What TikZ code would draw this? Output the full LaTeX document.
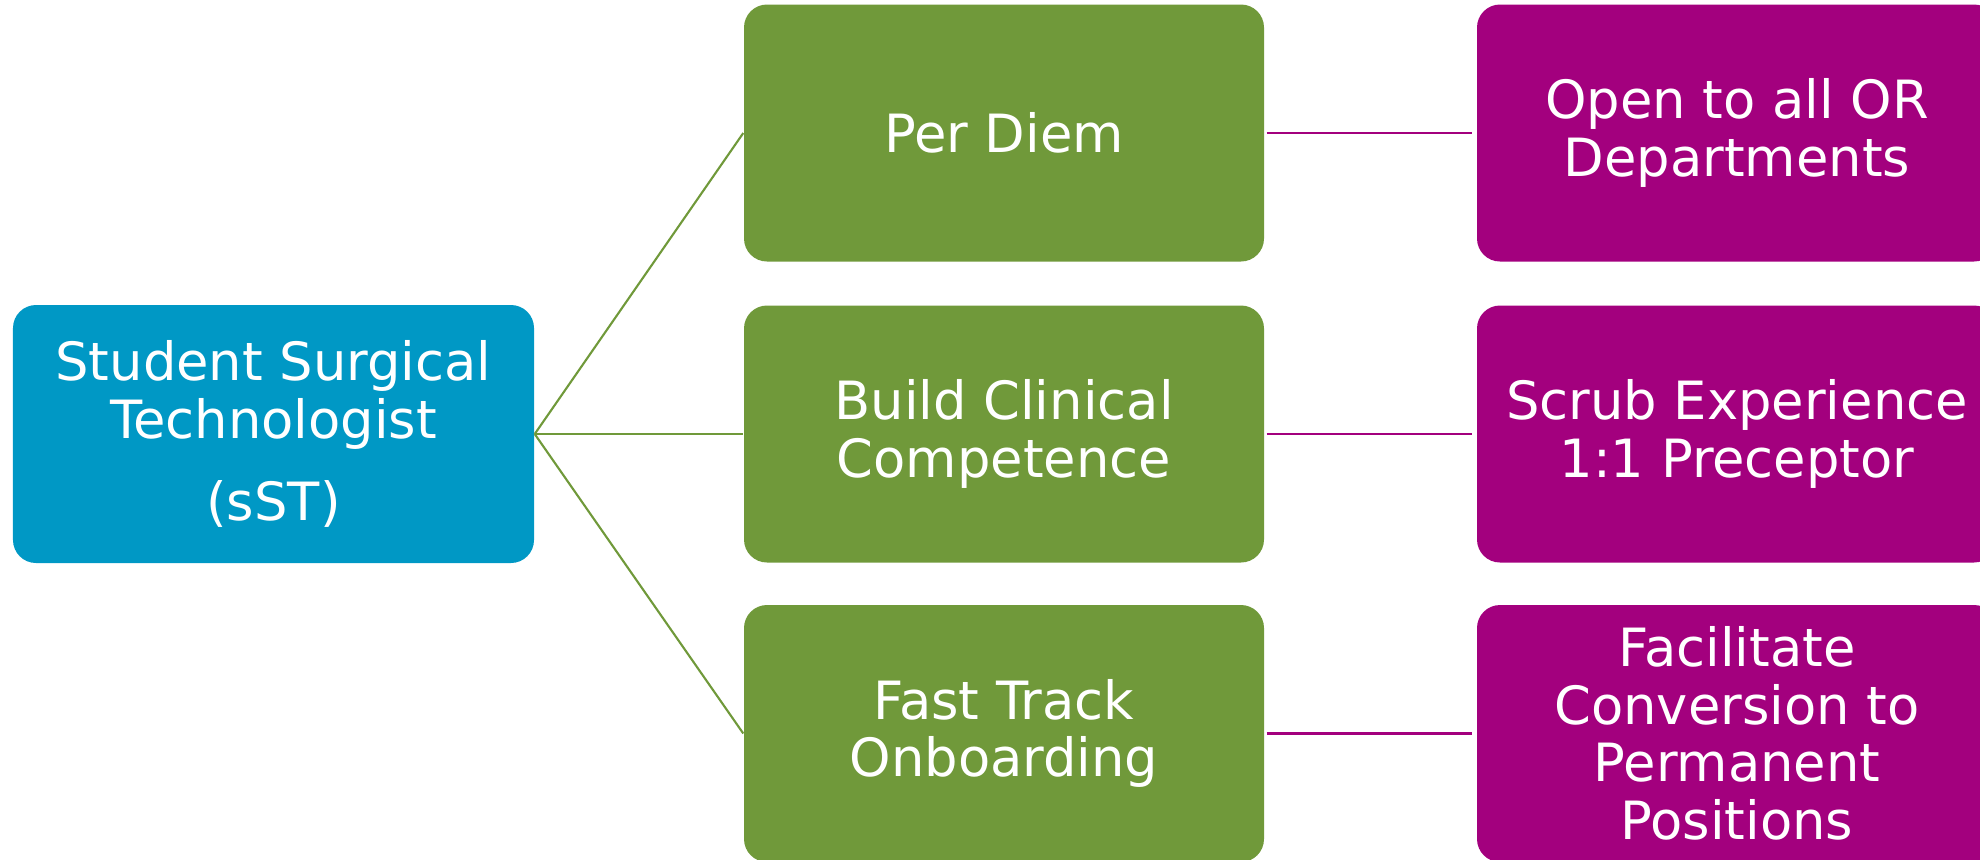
\documentclass[tikz,border=0pt]{standalone}
\usepackage{fontspec}
\setmainfont{DejaVu Sans}
\definecolor{sstblue}{RGB}{0,152,197}
\definecolor{leafgreen}{RGB}{112,153,58}
\definecolor{plum}{RGB}{163,0,126}
\begin{document}
\begin{tikzpicture}[
    box/.style={rounded corners=0.23cm, inner sep=0pt, text=white, align=center,
      minimum width=5.2cm, minimum height=2.57cm,
      font=\fontsize{15}{16.4}\selectfont},
    link/.style={line width=0.6pt}]
  \useasboundingbox (0,0) rectangle (19.8,-8.59);
  % left
  \node[box, fill=sstblue, minimum width=5.21cm, minimum height=2.58cm] (sst) at (2.735,-4.34)
    {Student Surgical\\Technologist\\[7pt](sST)};
  % middle column
  \node[box, fill=leafgreen] (perdiem) at (10.04,-1.33) {Per Diem};
  \node[box, fill=leafgreen] (build) at (10.04,-4.34) {Build Clinical\\Competence};
  \node[box, fill=leafgreen] (fasttrack) at (10.04,-7.335) {Fast Track\\Onboarding};
  % right column
  \node[box, fill=plum] (open) at (17.37,-1.33) {Open to all OR\\Departments};
  \node[box, fill=plum] (scrub) at (17.37,-4.34) {Scrub Experience\\1:1 Preceptor};
  \node[box, fill=plum] (facil) at (17.37,-7.335) {Facilitate\\Conversion to\\Permanent\\Positions};
  % connectors
  \draw[link, leafgreen] (sst.east) -- (perdiem.west);
  \draw[link, leafgreen] (sst.east) -- (build.west);
  \draw[link, leafgreen] (sst.east) -- (fasttrack.west);
  \draw[link, plum, shorten <=0.02cm, shorten >=0.04cm] (perdiem.east) -- (open.west);
  \draw[link, plum, shorten <=0.02cm, shorten >=0.04cm] (build.east) -- (scrub.west);
  \draw[link, plum, shorten <=0.02cm, shorten >=0.04cm] (fasttrack.east) -- (facil.west);
\end{tikzpicture}
\end{document}
